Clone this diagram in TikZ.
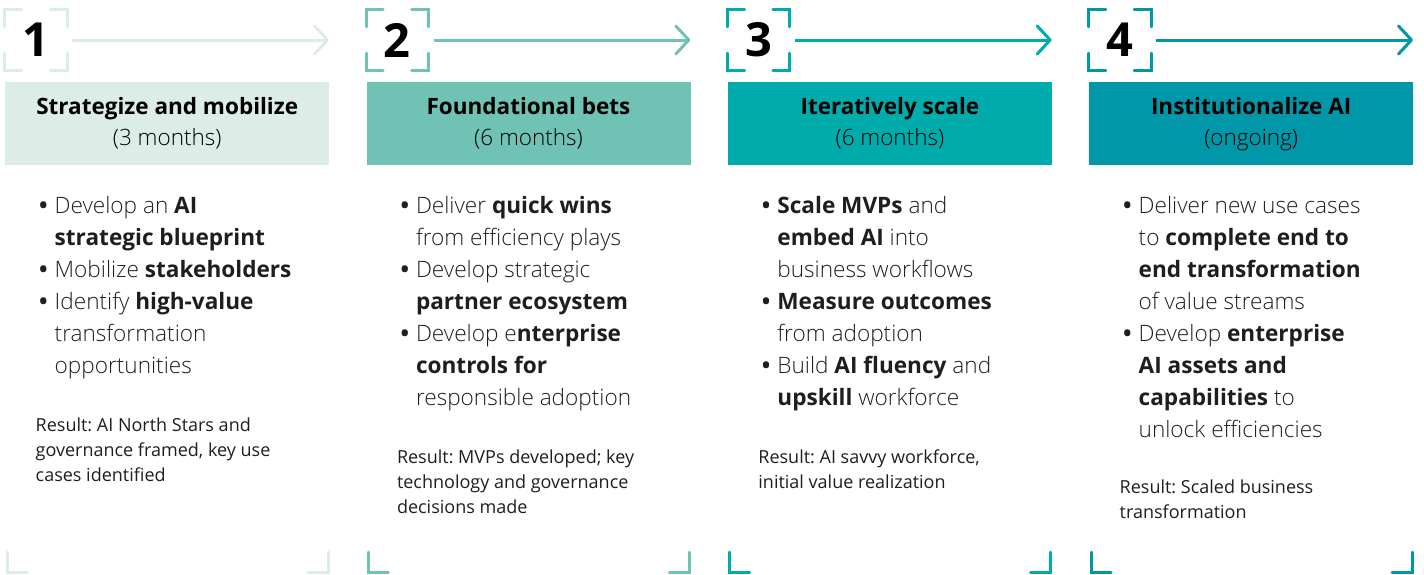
\documentclass[tikz,border=0pt]{standalone}
\usepackage{fontspec}
\setmainfont{Open Sans Light}[BoldFont={Open Sans Bold}]
\newfontfamily\regfont{Open Sans}
\usetikzlibrary{arrows.meta,positioning}

\definecolor{stepA}{HTML}{DCEDE7}
\definecolor{stepB}{HTML}{6FC2B4}
\definecolor{stepC}{HTML}{00ABAB}
\definecolor{stepD}{HTML}{0097A9}
\definecolor{inktext}{HTML}{1E1E1E}

\frenchspacing
\newcommand\bul{\llap{\textbf{\textbullet}\hspace{7pt}}}

\tikzset{num box/.style={minimum width=62pt,minimum height=60pt,inner sep=0pt,text=black,font=\fontsize{47}{47}\selectfont\bfseries},
	corner/.style={draw=phase,line width=3pt,line cap=round},
	phase arrow/.style={draw=phase,line width=3pt,shorten <=5pt,-{Straight Barb[length=13pt,width=28pt,round]}},
	head box/.style={fill=phase,minimum width=324pt,minimum height=83pt,inner sep=0pt,anchor=north west},
	head text/.style={text=black,font=\fontsize{22.5}{31}\selectfont,align=center,inner sep=0pt},
	body text/.style={text=inktext,font=\fontsize{22.6}{32}\selectfont,align=left,anchor=north west,inner sep=0pt},
	result text/.style={text=inktext,font=\regfont\fontsize{18}{25}\selectfont,align=left,anchor=north west,inner sep=0pt},
}

\begin{document}
\begin{tikzpicture}[x=1pt,y=-1pt]
\useasboundingbox (0,0) rectangle (1424,574);

%% phase 1
\begin{scope}[xshift=5pt]
\colorlet{phase}{stepA}
\node[num box] (n1) at (31,40) {1};
\coordinate (a1) at (324,40);
\draw[corner] (n1.north west) ++(0,17) -- ++(0,-17) -- ++(17,0);
\draw[corner] (n1.north east) ++(-17,0) -- ++(17,0) -- ++(0,17);
\draw[corner] (n1.south west) ++(0,-17) -- ++(0,17) -- ++(17,0);
\draw[corner] (n1.south east) ++(-17,0) -- ++(17,0) -- ++(0,-17);
\draw[phase arrow] (n1) -- (a1);
\node[head box] (h1) at (0,82) {};
\node[head text] (t1) at (h1.center) {\textbf{Strategize and mobilize}\\(3 months)};
\node[body text] (b1) at (49.5,196) {\bul Develop an \textbf{AI}\\
	\textbf{strategic blueprint}\\
	\bul Mobilize \textbf{stakeholders}\\
	\bul Identify \textbf{high-value}\\
	transformation\\
	opportunities};
\node[result text] (r1) at (30.5,418) {Result: AI North Stars and\\governance framed, key use\\cases identified};
\draw[corner] (2,552) -- (2,572) -- (22,572);
\draw[corner] (303,572) -- (323,572) -- (323,552);
\end{scope}

%% phase 2
\begin{scope}[xshift=366.3pt]
\colorlet{phase}{stepB}
\node[num box] (n2) at (31,40) {2};
\coordinate (a2) at (324,40);
\draw[corner] (n2.north west) ++(0,17) -- ++(0,-17) -- ++(17,0);
\draw[corner] (n2.north east) ++(-17,0) -- ++(17,0) -- ++(0,17);
\draw[corner] (n2.south west) ++(0,-17) -- ++(0,17) -- ++(17,0);
\draw[corner] (n2.south east) ++(-17,0) -- ++(17,0) -- ++(0,-17);
\draw[phase arrow] (n2) -- (a2);
\node[head box] (h2) at (0,82) {};
\node[head text] (t2) at (h2.center) {\textbf{Foundational bets}\\(6 months)};
\node[body text] (b2) at (49.5,196) {\bul Deliver \textbf{quick wins}\\
	from efficiency plays\\
	\bul Develop strategic\\
	\textbf{partner ecosystem}\\
	\bul Develop e\textbf{nterprise}\\
	\textbf{controls for}\\
	responsible adoption};
\node[result text] (r2) at (30.5,450) {Result: MVPs developed; key\\technology and governance\\decisions made};
\draw[corner] (2,552) -- (2,572) -- (22,572);
\draw[corner] (303,572) -- (323,572) -- (323,552);
\end{scope}

%% phase 3
\begin{scope}[xshift=727.7pt]
\colorlet{phase}{stepC}
\node[num box] (n3) at (31,40) {3};
\coordinate (a3) at (324,40);
\draw[corner] (n3.north west) ++(0,17) -- ++(0,-17) -- ++(17,0);
\draw[corner] (n3.north east) ++(-17,0) -- ++(17,0) -- ++(0,17);
\draw[corner] (n3.south west) ++(0,-17) -- ++(0,17) -- ++(17,0);
\draw[corner] (n3.south east) ++(-17,0) -- ++(17,0) -- ++(0,-17);
\draw[phase arrow] (n3) -- (a3);
\node[head box] (h3) at (0,82) {};
\node[head text] (t3) at (h3.center) {\textbf{Iteratively scale}\\(6 months)};
\node[body text] (b3) at (49.5,196) {\bul \textbf{Scale MVPs} and\\
	\textbf{embed AI} into\\
	business workflows\\
	\bul \textbf{Measure outcomes}\\
	from adoption\\
	\bul Build \textbf{AI fluency} and\\
	\textbf{upskill} workforce};
\node[result text] (r3) at (30.5,450) {Result: AI savvy workforce,\\initial value realization};
\draw[corner] (2,552) -- (2,572) -- (22,572);
\draw[corner] (303,572) -- (323,572) -- (323,552);
\end{scope}

%% phase 4
\begin{scope}[xshift=1089pt]
\colorlet{phase}{stepD}
\node[num box] (n4) at (31,40) {4};
\coordinate (a4) at (324,40);
\draw[corner] (n4.north west) ++(0,17) -- ++(0,-17) -- ++(17,0);
\draw[corner] (n4.north east) ++(-17,0) -- ++(17,0) -- ++(0,17);
\draw[corner] (n4.south west) ++(0,-17) -- ++(0,17) -- ++(17,0);
\draw[corner] (n4.south east) ++(-17,0) -- ++(17,0) -- ++(0,-17);
\draw[phase arrow] (n4) -- (a4);
\node[head box] (h4) at (0,82) {};
\node[head text] (t4) at (h4.center) {\textbf{Institutionalize AI}\\(ongoing)};
\node[body text] (b4) at (49.5,196) {\bul Deliver new use cases\\
	to \textbf{complete end to}\\
	\textbf{end transformation}\\
	of value streams\\
	\bul Develop \textbf{enterprise}\\
	\textbf{AI assets and}\\
	\textbf{capabilities} to\\
	unlock efficiencies};
\node[result text] (r4) at (30.5,480) {Result: Scaled business\\transformation};
\draw[corner] (2,552) -- (2,572) -- (22,572);
\draw[corner] (303,572) -- (323,572) -- (323,552);
\end{scope}
\end{tikzpicture}
\end{document}
